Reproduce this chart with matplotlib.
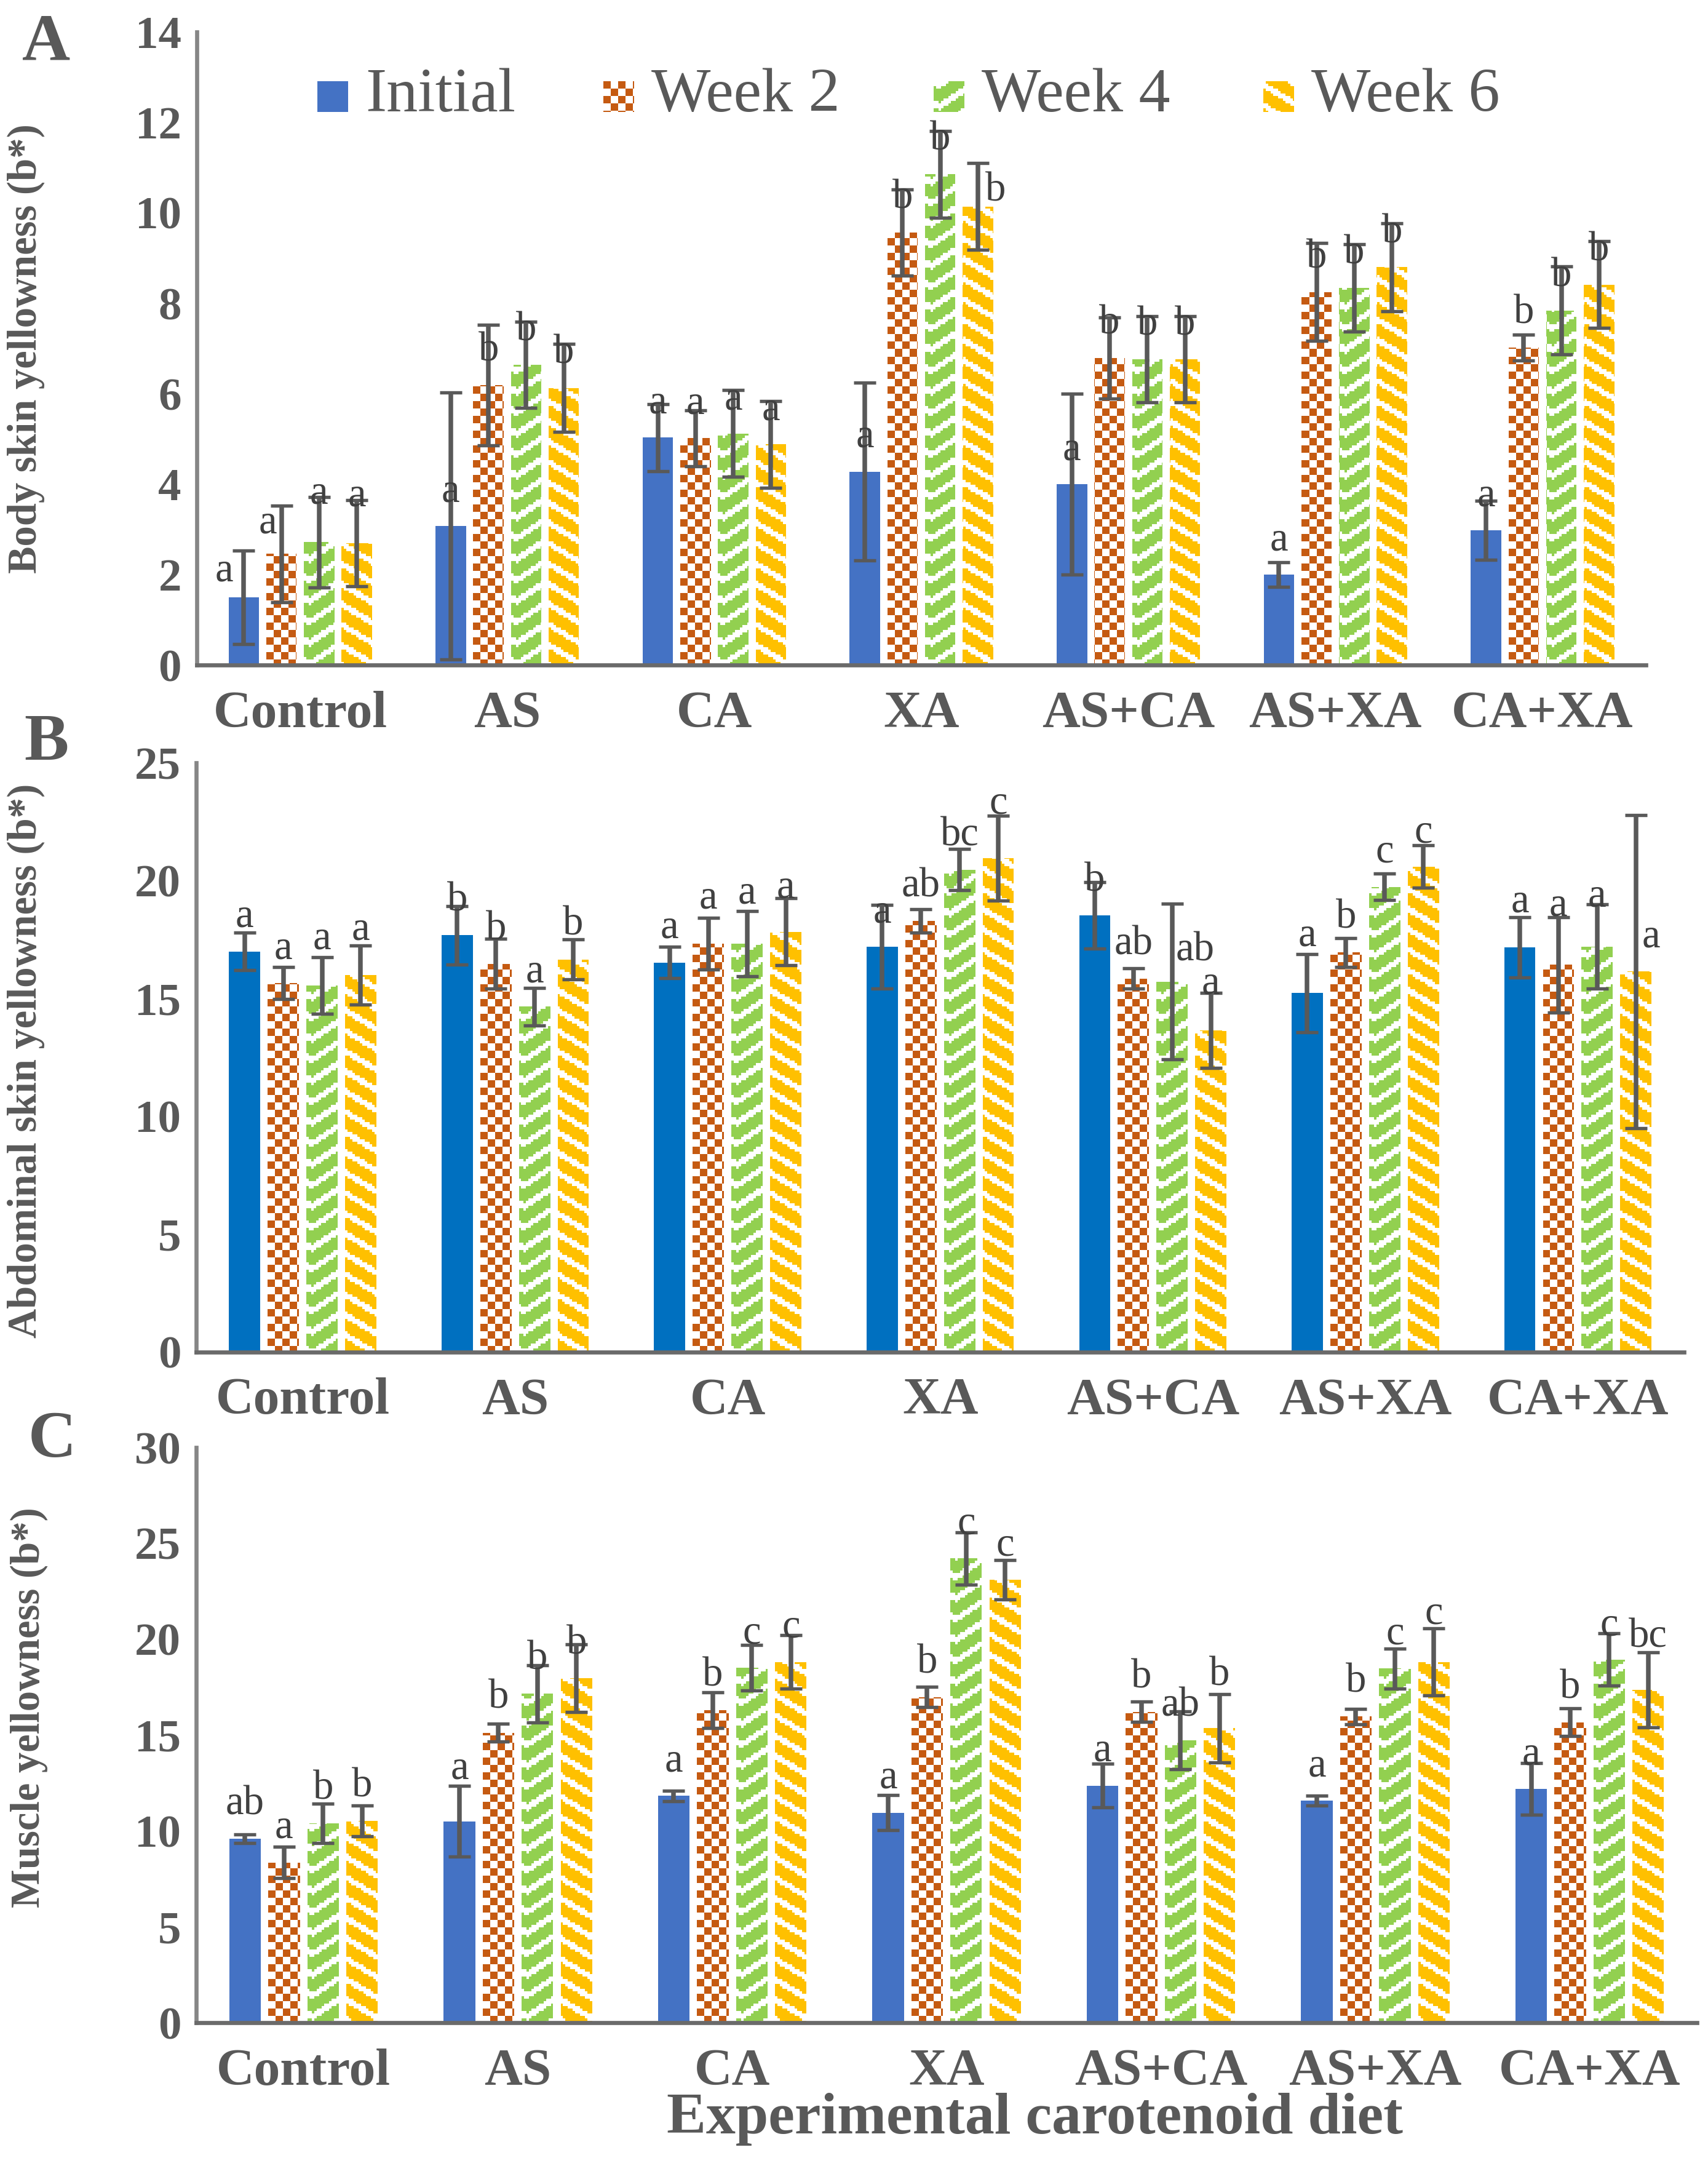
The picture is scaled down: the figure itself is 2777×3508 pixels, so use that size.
import numpy as np
import matplotlib.pyplot as plt
from matplotlib.path import Path
from matplotlib.patches import PathPatch
from matplotlib.colors import to_rgb

plt.rcParams['font.family'] = ['Liberation Serif', 'DejaVu Serif']

DPI = 300
W_PX, H_PX = 2777, 3508

diets = ["Control", "AS", "CA", "XA", "AS+CA", "AS+XA", "CA+XA"]
series = ["Initial", "Week 2", "Week 4", "Week 6"]

# Panel A - body skin yellowness
body_initial = [1.50, 3.08, 5.03, 4.28, 4.00, 2.00, 2.98]
body_week2 = [2.46, 6.19, 5.02, 9.56, 6.79, 8.25, 7.02]
body_week4 = [2.72, 6.64, 5.12, 10.85, 6.76, 8.34, 7.84]
body_week6 = [2.70, 6.13, 4.88, 10.14, 6.76, 8.80, 8.41]
body_err_initial = [1.03, 2.95, 0.74, 1.96, 2.00, 0.27, 0.65]
body_err_week2 = [1.07, 1.33, 0.62, 0.95, 0.90, 1.08, 0.29]
body_err_week4 = [1.00, 0.95, 0.96, 0.96, 0.95, 0.96, 0.97]
body_err_week6 = [0.95, 0.97, 0.96, 0.96, 0.95, 0.97, 0.96]
body_let_initial = ["a", "a", "a", "a", "a", "a", "a"]
body_let_week2 = ["a", "b", "a", "b", "b", "b", "b"]
body_let_week4 = ["a", "b", "a", "b", "b", "b", "b"]
body_let_week6 = ["a", "b", "a", "b", "b", "b", "b"]

# Panel B - abdominal skin yellowness
abd_initial = [17.00, 17.68, 16.53, 17.20, 18.53, 15.23, 17.16]
abd_week2 = [15.66, 16.47, 17.33, 18.30, 15.85, 16.95, 16.43]
abd_week4 = [15.56, 14.66, 17.33, 20.47, 15.72, 19.74, 17.20]
abd_week6 = [16.00, 16.66, 17.83, 20.95, 13.64, 20.60, 16.14]
abd_err_initial = [0.80, 1.25, 0.67, 1.78, 1.40, 1.66, 1.28]
abd_err_week2 = [0.67, 1.06, 1.10, 0.50, 0.43, 0.61, 2.02]
abd_err_week4 = [1.20, 0.80, 1.38, 0.88, 3.30, 0.57, 1.79]
abd_err_week6 = [1.26, 0.84, 1.42, 1.80, 1.59, 0.90, 6.64]
abd_let_initial = ["a", "b", "a", "a", "b", "a", "a"]
abd_let_week2 = ["a", "b", "a", "ab", "ab", "b", "a"]
abd_let_week4 = ["a", "a", "a", "bc", "ab", "c", "a"]
abd_let_week6 = ["a", "b", "a", "c", "a", "c", "a"]

# Panel C - muscle yellowness
mus_initial = [9.60, 10.51, 11.83, 10.96, 12.37, 11.58, 12.20]
mus_week2 = [8.36, 15.13, 16.29, 16.99, 16.22, 15.97, 15.67]
mus_week4 = [10.41, 17.16, 18.52, 24.22, 14.73, 18.47, 18.94]
mus_week6 = [10.54, 17.98, 18.82, 23.11, 15.37, 18.82, 17.36]
mus_err_initial = [0.22, 1.86, 0.27, 0.92, 1.15, 0.25, 1.34]
mus_err_week2 = [0.83, 0.47, 0.93, 0.52, 0.53, 0.40, 0.72]
mus_err_week4 = [1.03, 1.49, 1.18, 1.36, 1.50, 1.03, 1.36]
mus_err_week6 = [0.80, 1.77, 1.40, 1.02, 1.78, 1.76, 1.96]
mus_let_initial = ["ab", "a", "a", "a", "a", "a", "a"]
mus_let_week2 = ["a", "b", "b", "b", "b", "b", "b"]
mus_let_week4 = ["b", "b", "c", "c", "ab", "c", "c"]
mus_let_week6 = ["b", "b", "c", "c", "b", "c", "bc"]

GRAY = "#595959"
LABEL_GRAY = "#404040"
ORANGE = "#C55A11"
GREEN = "#92D050"
GOLD = "#FFC000"


def pattern_mask(kind, yy, xrel):
    # True where the pattern is white; xrel = pixel column counted from the bar's left edge
    xq = (xrel // 4) * 4
    yq = (yy // 4) * 4
    if kind == "checker":
        return ((xrel // 12 + yy // 12) % 2) == 1
    if kind == "zigzag":
        prof = np.abs(xq - 7) * 0.67
        return ((yq + prof) % 34) < 11
    return ((yq - 0.6 * xq) % 33) < 11


def pattern_image(kind, color, h, w, lefts=None):
    yy, xx = np.mgrid[0:h, 0:w]
    if lefts is None:
        xrel = xx
    else:
        idx = np.clip(np.searchsorted(lefts, xx[0], side="right") - 1, 0, len(lefts) - 1)
        xrel = xx - lefts[idx][None, :]
    white = pattern_mask(kind, yy, xrel)
    img = np.empty((h, w, 3))
    img[:] = to_rgb(color)
    img[white] = (1.0, 1.0, 1.0)
    return img


fig = plt.figure(figsize=(W_PX / DPI, H_PX / DPI), dpi=DPI)

panels = [
    dict(rect=[0.1152, 0.6918, 0.8485, 0.2934], ymax=14, step=2, blue="#4472C4",
         ylabel="Body skin yellowness (b*)", ylab_pos=(-0.105, 0.50), tag="A", tag_pos=(0.027, 0.9795),
         vals=[body_initial, body_week2, body_week4, body_week6],
         errs=[body_err_initial, body_err_week2, body_err_week4, body_err_week6],
         lets=[body_let_initial, body_let_week2, body_let_week4, body_let_week6],
         nudge={(0, 0): (-32, -13), (0, 1): (-22, -6), (0, 2): (0, 23), (0, 3): (0, 21),
                (3, 3): (29, -30)}),
    dict(rect=[0.1150, 0.3735, 0.8710, 0.2730], ymax=25, step=5, blue="#0070C0",
         ylabel="Abdominal skin yellowness (b*)", ylab_pos=(-0.102, 0.494), tag="B", tag_pos=(0.027, 0.6555),
         vals=[abd_initial, abd_week2, abd_week4, abd_week6],
         errs=[abd_err_initial, abd_err_week2, abd_err_week4, abd_err_week6],
         lets=[abd_let_initial, abd_let_week2, abd_let_week4, abd_let_week6],
         nudge={(0, 2): (0, 20), (0, 3): (0, 18), (2, 1): (0, 18), (2, 2): (0, 26), (2, 3): (0, 16),
                (3, 3): (0, 33), (4, 2): (37, -6), (4, 3): (0, 20), (5, 0): (0, 37),
                (6, 0): (0, 18), (6, 1): (0, 40), (6, 2): (0, 26), (6, 3): (25, 0)}),
    dict(rect=[0.1150, 0.0627, 0.8785, 0.2665], ymax=30, step=5, blue="#4472C4",
         ylabel="Muscle yellowness (b*)", ylab_pos=(-0.099, 0.548), tag="C", tag_pos=(0.0305, 0.3324),
         vals=[mus_initial, mus_week2, mus_week4, mus_week6],
         errs=[mus_err_initial, mus_err_week2, mus_err_week4, mus_err_week6],
         lets=[mus_let_initial, mus_let_week2, mus_let_week4, mus_let_week6],
         nudge={(1, 0): (0, 29), (4, 3): (0, 30), (5, 3): (0, 22), (6, 3): (0, 30)}),
]

fills = [None, ("checker", ORANGE), ("zigzag", GREEN), ("diag", GOLD)]
bar_w = 0.147
pitch = 0.182
px2pt = 72.0 / DPI

x = np.arange(len(diets))
x0, x1 = -0.5, len(diets) - 0.5
for p in panels:
    ax = fig.add_axes(p["rect"])
    ax.set_xlim(x0, x1)
    ax.set_ylim(0, p["ymax"])
    bb = ax.get_window_extent()
    h_px, w_px = int(round(bb.height)), int(round(bb.width))

    for i, (vals, errs, lets) in enumerate(zip(p["vals"], p["errs"], p["lets"])):
        xpos = x + (i - 1.5) * pitch
        if fills[i] is None:
            ax.bar(xpos, vals, bar_w, color=p["blue"], zorder=2)
        else:
            kind, col = fills[i]
            bars = ax.bar(xpos, vals, bar_w, color="none", edgecolor="none", zorder=2)
            paths = [r.get_path().transformed(r.get_patch_transform()) for r in bars]
            clip = PathPatch(Path.make_compound_path(*paths), transform=ax.transData,
                             facecolor="none", edgecolor="none")
            lefts = np.round((xpos - bar_w / 2 - x0) / (x1 - x0) * w_px).astype(int)
            im = ax.imshow(pattern_image(kind, col, h_px, w_px, lefts), origin="upper",
                           extent=(x0, x1, 0, p["ymax"]),
                           aspect="auto", interpolation="nearest", zorder=2)
            im.set_clip_path(clip)
        ax.errorbar(xpos, vals, yerr=errs, fmt="none", ecolor=GRAY, elinewidth=1.8,
                    capsize=4.4, capthick=1.3, zorder=4)
        for j, (xv, v, t) in enumerate(zip(xpos, vals, lets)):
            dx, dy = p["nudge"].get((j, i), (0, 0))
            ax.annotate(t, (xv, v), xytext=(dx * px2pt, 9.5 + dy * px2pt),
                        textcoords="offset points", ha="center", va="baseline",
                        fontsize=16, color=LABEL_GRAY, zorder=5)

    ax.set_xlim(x0, x1)
    ax.set_ylim(0, p["ymax"])
    ax.set_yticks(np.arange(0, p["ymax"] + 0.1, p["step"]))
    ax.set_xticks(x)
    ax.set_xticklabels(diets)
    ax.tick_params(length=0)
    ax.tick_params(axis="x", pad=10)
    ax.tick_params(axis="y", pad=6)
    for lab in ax.get_xticklabels():
        lab.set_fontsize(20.5)
        lab.set_fontweight("bold")
        lab.set_color(GRAY)
    for lab in ax.get_yticklabels():
        lab.set_fontsize(18)
        lab.set_fontweight("bold")
        lab.set_color(GRAY)
    for s in ["top", "right"]:
        ax.spines[s].set_visible(False)
    ax.spines["left"].set_color("#868686")
    ax.spines["left"].set_linewidth(1.6)
    ax.spines["bottom"].set_color("#6a6a6a")
    ax.spines["bottom"].set_linewidth(1.6)
    ax.set_ylabel(p["ylabel"], fontsize=16, fontweight="bold", color=GRAY)
    ax.yaxis.set_label_coords(*p["ylab_pos"])
    fig.text(p["tag_pos"][0], p["tag_pos"][1], p["tag"], fontsize=26, fontweight="bold",
             color=GRAY, ha="center", va="center")

fig.text(0.606, 0.018, "Experimental carotenoid diet", fontsize=23, fontweight="bold",
         color=GRAY, ha="center", va="center")

# legend built by hand so the handles can show the bitmap fills
leg_x = [516, 981, 1518, 2054]
leg_y = 157
hs = 50
for i, name in enumerate(series):
    hx = leg_x[i] / W_PX
    hy = 1 - (leg_y + hs / 2) / H_PX
    hax = fig.add_axes([hx, hy, hs / W_PX, hs / H_PX])
    hax.set_axis_off()
    if fills[i] is None:
        hax.imshow(np.ones((hs, hs, 3)) * np.array(to_rgb("#4472C4")), aspect="auto",
                   interpolation="nearest")
    else:
        kind, col = fills[i]
        hax.imshow(pattern_image(kind, col, hs, hs), aspect="auto", interpolation="nearest")
    fig.text((leg_x[i] + hs + 28) / W_PX, 1 - leg_y / H_PX, name, fontsize=24.5,
             color=GRAY, ha="left", va="center")

fig.savefig("out.png", dpi=DPI)
